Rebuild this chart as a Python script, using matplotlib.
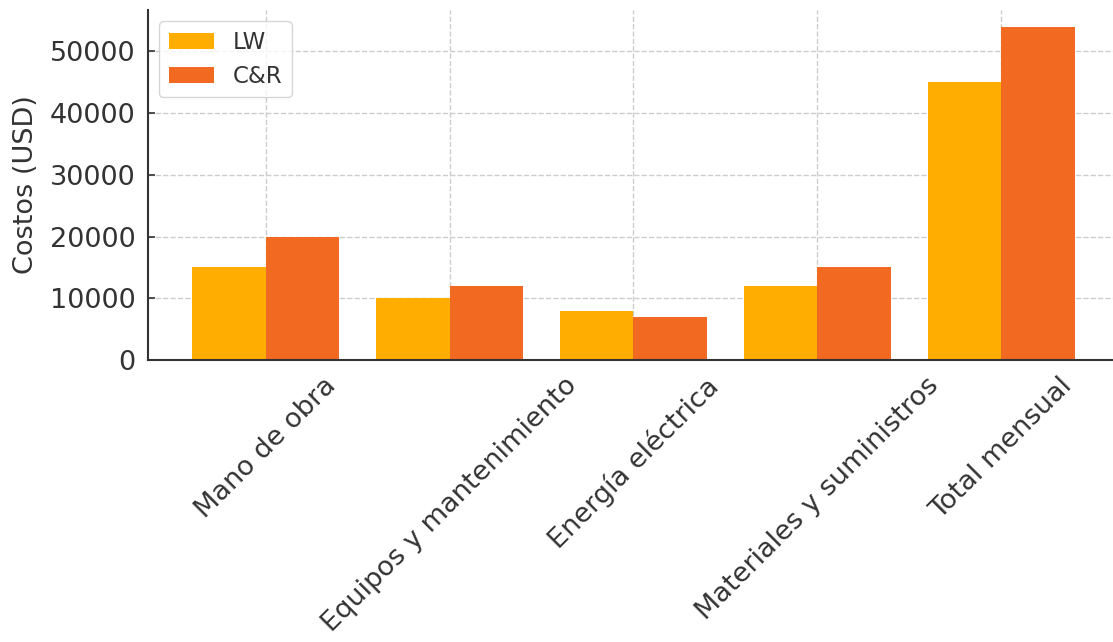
import numpy as np
import matplotlib.pyplot as plt

# monthly costs by item, two scenarios
categorias = ['Mano de obra', 'Equipos y mantenimiento', 'Energía eléctrica',
              'Materiales y suministros', 'Total mensual']
costos_lw = [15000, 10000, 8000, 12000, 45000]
costos_cr = [20000, 12000, 7000, 15000, 54000]

color_lw = '#FFAE00'
color_cr = '#F26A22'
texto = '#333333'

fig = plt.figure(figsize=(11.13, 6.42), dpi=100)
ax = fig.add_axes([148/1113, 282/642, 971/1113, 350/642])

x = np.arange(len(categorias))
w = 0.4
ax.bar(x - w/2, costos_lw, w, color=color_lw, label='LW')
ax.bar(x + w/2, costos_cr, w, color=color_cr, label='C&R')

ax.set_xticks(x)
ax.set_xticklabels(categorias, rotation=45, fontsize=19.5, color=texto)
ax.set_ylabel('Costos (USD)', fontsize=19.5, color=texto, labelpad=8)
ax.tick_params(axis='y', labelsize=19.5, labelcolor=texto, pad=9)
ax.tick_params(axis='x', pad=9)
ax.tick_params(direction='in', color=texto, length=5, width=1.2)

ax.grid(True, linestyle='--', color='#cccccc', linewidth=1)
ax.set_axisbelow(True)
for s in ['top', 'right']:
    ax.spines[s].set_visible(False)
for s in ['left', 'bottom']:
    ax.spines[s].set_color(texto)
    ax.spines[s].set_linewidth(1.5)

leg = ax.legend(loc='upper left', fontsize=16.5, frameon=True)
for t in leg.get_texts():
    t.set_color(texto)

fig.savefig('out.png', dpi=100)
